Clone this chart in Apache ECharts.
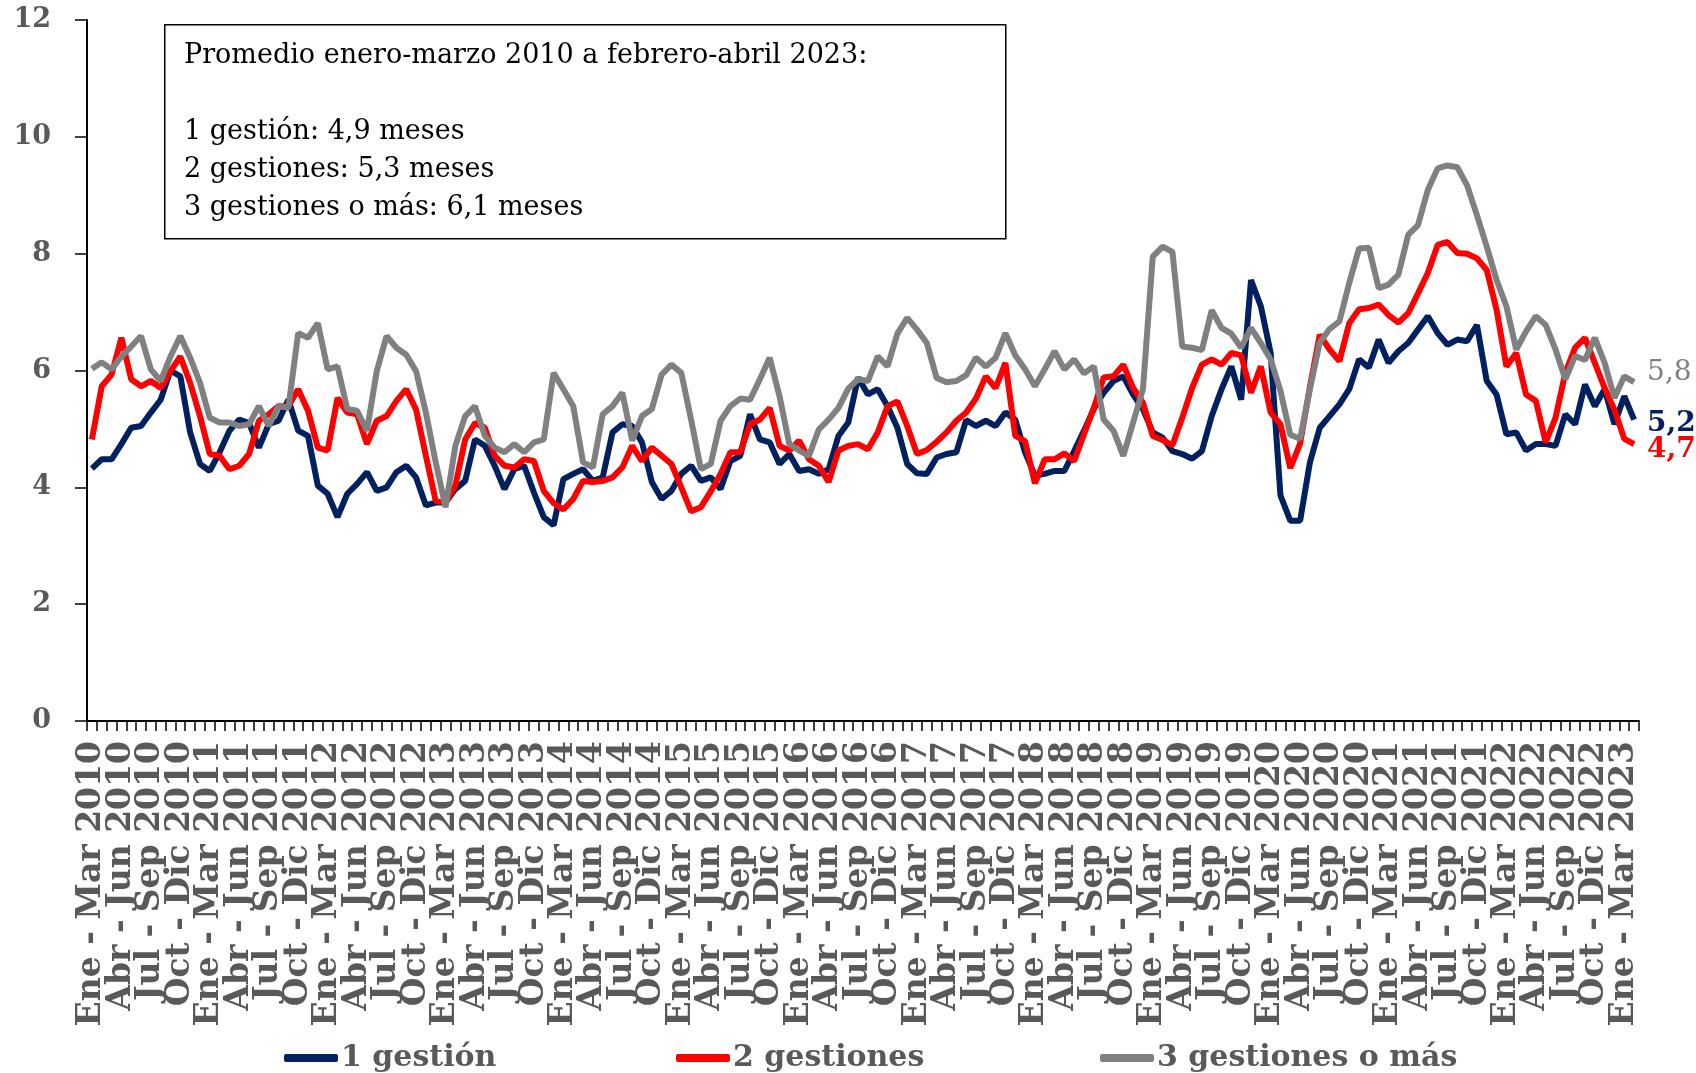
<!DOCTYPE html>
<html>
<head>
<meta charset="utf-8">
<title>Duración promedio</title>
<script src="https://cdn.jsdelivr.net/npm/echarts@6/dist/echarts.min.js"></script>
<style>
  html, body { margin: 0; padding: 0; background: #fff; }
  #chart { width: 1696px; height: 1073px; }
</style>
</head>
<body>
<div id="chart"></div>
<script>
// meses para armar las etiquetas de trimestres móviles
var meses = ['Ene', 'Feb', 'Mar', 'Abr', 'May', 'Jun', 'Jul', 'Ago', 'Sep', 'Oct', 'Nov', 'Dic'];
var anioInicio = 2010;
var nPuntos = 158; // ene-mar 2010 a feb-abr 2023

var seriesNombres = ['1 gestión', '2 gestiones', '3 gestiones o más'];
var colores = ['#002060', '#FF0000', '#808080'];

var unaGestion = [
  4.32, 4.48, 4.48, 4.74, 5.02, 5.05, 5.28, 5.5, 6.0, 5.9, 4.94, 4.4,
  4.28, 4.6, 4.97, 5.16, 5.1, 4.68, 5.08, 5.14, 5.5, 4.97, 4.88, 4.03,
  3.89, 3.49, 3.89, 4.06, 4.26, 3.94, 4.0, 4.26, 4.37, 4.17, 3.69, 3.74,
  3.74, 3.97, 4.11, 4.82, 4.71, 4.37, 3.97, 4.31, 4.37, 3.91, 3.49, 3.35,
  4.14, 4.23, 4.31, 4.11, 4.17, 4.94, 5.08, 5.05, 4.77, 4.09, 3.8, 3.94,
  4.23, 4.37, 4.11, 4.17, 3.97, 4.45, 4.54, 5.25, 4.82, 4.77, 4.4, 4.57,
  4.28, 4.31, 4.23, 4.31, 4.88, 5.11, 5.88, 5.59, 5.68, 5.39, 5.02, 4.4,
  4.24, 4.23, 4.51, 4.57, 4.6, 5.15, 5.05, 5.14, 5.05, 5.28, 5.16, 4.6,
  4.2, 4.23, 4.28, 4.28, 4.62, 4.97, 5.34, 5.62, 5.82, 5.9, 5.59, 5.34,
  4.94, 4.85, 4.62, 4.57, 4.49, 4.62, 5.22, 5.68, 6.07, 5.5, 7.55, 7.1,
  6.3, 3.86, 3.43, 3.43, 4.43, 5.02, 5.22, 5.42, 5.68, 6.19, 6.05, 6.53,
  6.13, 6.33, 6.47, 6.7, 6.93, 6.64, 6.44, 6.53, 6.5, 6.78, 5.82, 5.59,
  4.91, 4.94, 4.63, 4.74, 4.74, 4.71, 5.25, 5.08, 5.76, 5.39, 5.68, 5.08,
  5.56, 5.16
];

var dosGestiones = [
  4.82, 5.73, 5.93, 6.56, 5.85, 5.73, 5.82, 5.7, 5.99, 6.24, 5.79, 5.22,
  4.57, 4.54, 4.31, 4.37, 4.57, 5.14, 5.25, 5.39, 5.39, 5.68, 5.31, 4.68,
  4.63, 5.53, 5.28, 5.25, 4.74, 5.14, 5.22, 5.48, 5.68, 5.33, 4.54, 3.77,
  3.74, 4.03, 4.82, 5.1, 5.02, 4.54, 4.37, 4.34, 4.48, 4.45, 3.94, 3.73,
  3.62, 3.8, 4.11, 4.09, 4.11, 4.17, 4.34, 4.71, 4.45, 4.68, 4.54, 4.4,
  4.0, 3.59, 3.66, 3.93, 4.23, 4.6, 4.6, 5.08, 5.16, 5.36, 4.71, 4.63,
  4.8, 4.48, 4.37, 4.09, 4.63, 4.71, 4.74, 4.65, 4.94, 5.39, 5.47, 5.05,
  4.57, 4.64, 4.78, 4.94, 5.14, 5.28, 5.52, 5.9, 5.7, 6.13, 4.88, 4.79,
  4.07, 4.48, 4.48, 4.58, 4.45, 4.91, 5.36, 5.88, 5.9, 6.1, 5.7, 5.45,
  4.88, 4.81, 4.72, 5.19, 5.7, 6.1, 6.19, 6.1, 6.3, 6.26, 5.62, 6.07,
  5.28, 5.08, 4.33, 4.75, 5.72, 6.61, 6.36, 6.16, 6.81, 7.05, 7.07, 7.13,
  6.95, 6.82, 6.98, 7.32, 7.67, 8.15, 8.2, 8.01, 8.0, 7.92, 7.72, 7.04,
  6.07, 6.3, 5.59, 5.48, 4.77, 5.19, 5.96, 6.39, 6.56, 6.13, 5.7, 5.33,
  4.83, 4.74
];

var tresOMas = [
  6.03, 6.14, 6.02, 6.24, 6.41, 6.59, 6.02, 5.82, 6.24, 6.59, 6.22, 5.79,
  5.19, 5.11, 5.11, 5.05, 5.08, 5.39, 5.05, 5.39, 5.36, 6.64, 6.56, 6.81,
  6.02, 6.07, 5.34, 5.31, 4.97, 5.99, 6.59, 6.39, 6.27, 5.99, 5.28, 4.43,
  3.66, 4.71, 5.22, 5.39, 4.88, 4.68, 4.6, 4.74, 4.6, 4.77, 4.82, 5.96,
  5.68, 5.39, 4.43, 4.34, 5.25, 5.39, 5.62, 4.8, 5.22, 5.34, 5.93, 6.1,
  5.96, 5.16, 4.31, 4.4, 5.14, 5.39, 5.52, 5.5, 5.85, 6.22, 5.56, 4.74,
  4.63, 4.54, 4.99, 5.16, 5.36, 5.69, 5.85, 5.82, 6.24, 6.07, 6.63, 6.9,
  6.7, 6.47, 5.87, 5.8, 5.82, 5.92, 6.22, 6.07, 6.22, 6.64, 6.26, 6.02,
  5.73, 6.02, 6.33, 6.02, 6.19, 5.95, 6.07, 5.16, 4.97, 4.54, 5.11, 5.68,
  7.95, 8.12, 8.03, 6.41, 6.39, 6.35, 7.03, 6.73, 6.63, 6.39, 6.73, 6.47,
  6.19, 5.65, 4.9, 4.83, 5.68, 6.48, 6.71, 6.84, 7.5, 8.09, 8.1, 7.41,
  7.47, 7.64, 8.32, 8.49, 9.09, 9.46, 9.51, 9.48, 9.17, 8.66, 8.12, 7.55,
  7.1, 6.36, 6.67, 6.93, 6.78, 6.36, 5.85, 6.25, 6.18, 6.56, 6.13, 5.53,
  5.9, 5.8
];

var promedioTexto = [
  'Promedio enero-marzo 2010 a febrero-abril 2023:',
  '',
  '1 gestión: 4,9 meses',
  '2 gestiones: 5,3 meses',
  '3 gestiones o más: 6,1 meses'
];

var categorias = [];
for (var i = 0; i < nPuntos; i++) {
  var mIni = i % 12;
  var mFin = (i + 2) % 12;
  var anio = anioInicio + Math.floor((i + 2) / 12);
  categorias.push(meses[mIni] + ' - ' + meses[mFin] + ' ' + anio);
}

var fuente = 'DejaVu Serif';
var gris = '#595959';
var datos = [unaGestion, dosGestiones, tresOMas];
var endOffsets = [[5, 4], [5, 6], [5, -9]];
var endWeights = ['bold', 'bold', 'normal'];
var legendLeft = [279, 671, 1095];

var myChart = echarts.init(document.getElementById('chart'));

var series = datos.map(function (d, k) {
  return {
    name: seriesNombres[k],
    type: 'line',
    data: d,
    symbol: 'none',
    smooth: false,
    lineStyle: { color: colores[k], width: 6 },
    itemStyle: { color: colores[k] },
    endLabel: {
      show: true,
      offset: endOffsets[k],
      color: colores[k],
      fontFamily: fuente,
      fontSize: 28,
      fontWeight: endWeights[k],
      formatter: function (p) { return p.value.toFixed(1).replace('.', ','); }
    },
    z: 2 + k
  };
});

var legends = seriesNombres.map(function (n, k) {
  return {
    data: [n],
    left: legendLeft[k],
    top: 1038,
    icon: 'roundRect',
    itemWidth: 54,
    itemHeight: 8,
    itemGap: 4,
    textStyle: { color: gris, fontFamily: fuente, fontSize: 30, fontWeight: 'bold', padding: [0, 0, 0, -2] }
  };
});

option = {
  animation: false,
  backgroundColor: '#fff',
  grid: { left: 87, right: 57, top: 20, bottom: 352 },
  legend: legends,
  xAxis: {
    type: 'category',
    data: categorias,
    boundaryGap: true,
    axisLine: { lineStyle: { color: '#000', width: 2 } },
    axisTick: { show: true, interval: 0, length: 10, lineStyle: { color: '#000', width: 1.5 } },
    axisLabel: {
      // todas las etiquetas se pintan; solo trimestres calendario llevan texto
      interval: 0,
      formatter: function (v, idx) { return idx % 3 === 0 ? v : ''; },
      hideOverlap: false,
      rotate: 90,
      margin: 20,
      color: gris,
      fontFamily: fuente,
      fontSize: 33,
      fontWeight: 'bold'
    }
  },
  yAxis: {
    type: 'value',
    min: 0,
    max: 12,
    interval: 2,
    splitLine: { show: false },
    axisLine: { show: true, lineStyle: { color: '#000', width: 2 } },
    axisTick: { show: true, length: 12, lineStyle: { color: '#000', width: 1.5 } },
    axisLabel: { margin: 36, color: gris, fontFamily: fuente, fontSize: 27, fontWeight: 'bold' }
  },
  graphic: [
    {
      type: 'rect',
      left: 164,
      top: 24,
      shape: { width: 841, height: 214 },
      style: { fill: '#fff', stroke: '#000', lineWidth: 1.5 },
      z: 100
    },
    {
      type: 'text',
      left: 184,
      top: 37,
      style: {
        text: promedioTexto.join('\n'),
        fill: '#000',
        font: '27px "DejaVu Serif"',
        lineHeight: 38
      },
      z: 101
    }
  ],
  series: series
};

myChart.setOption(option);
</script>
</body>
</html>
